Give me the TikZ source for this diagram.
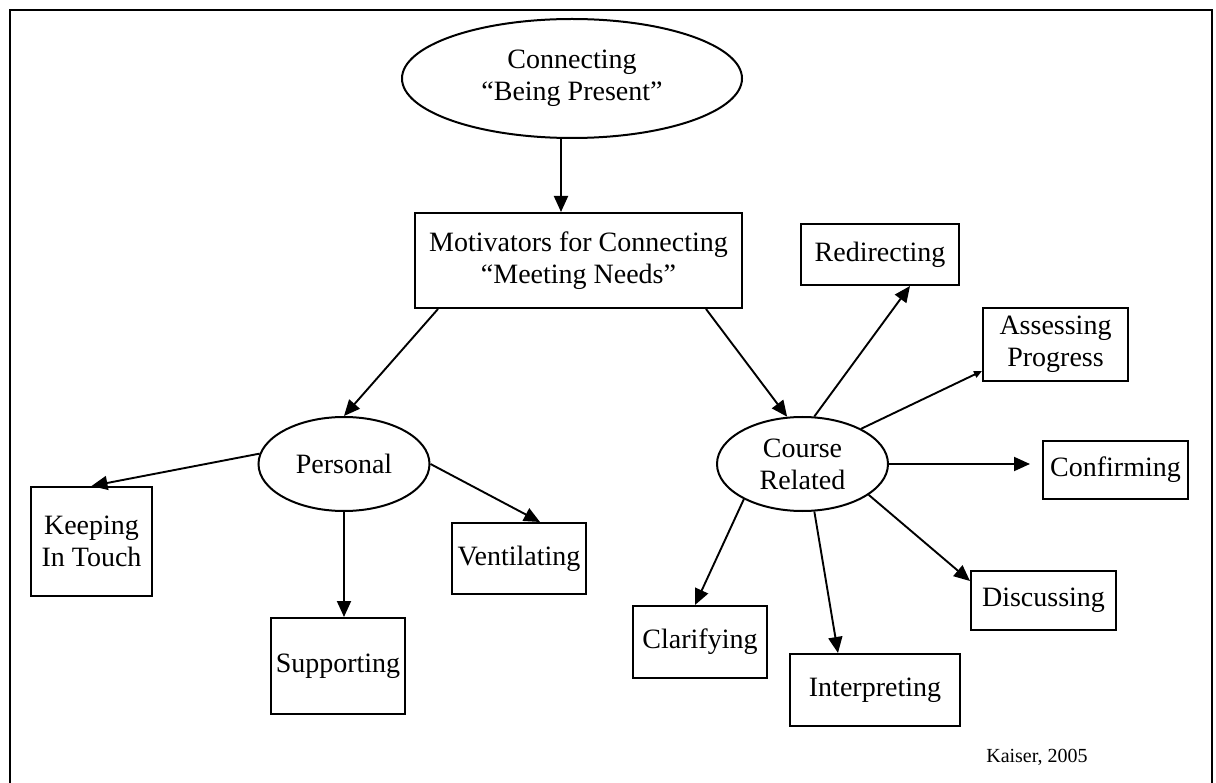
\documentclass[tikz,border=0pt]{standalone}
\usepackage{fontspec}
\setmainfont{Liberation Serif}
\usetikzlibrary{arrows.meta,shapes.geometric,calc}
\begin{document}
\begin{tikzpicture}[x=1pt,y=-1pt,
  txt/.style={font=\fontsize{28}{32}\selectfont, align=center},
  box/.style={txt, draw, line width=2pt, rectangle, inner sep=0pt},
  oval/.style={txt, draw, line width=2pt, ellipse, inner sep=0pt},
  arr/.style={line width=1.9pt, -{Triangle[length=16pt,width=14pt]}},
  smallarr/.style={line width=1.9pt, -{Triangle[length=8pt,width=7pt]}},
]
\useasboundingbox (0,0) rectangle (1216,783);
\fill[white] (0,0) rectangle (1216,783);

% outer frame (open at the bottom)
\draw[line width=2.6pt] (10,790) -- (10,10) -- (1212,10) -- (1212,790);

% central concepts
\node[oval, minimum width=340pt, minimum height=119pt] (top) at (572,78.5)
  {Connecting\\“Being Present”};
\node[box, minimum width=327pt, minimum height=95pt] (mot) at (578.5,260.5)
  {Motivators for Connecting\\“Meeting Needs”};
\node[oval, minimum width=171pt, minimum height=94pt] (pers) at (344,464) {Personal};
\node[oval, minimum width=171pt, minimum height=94pt] (course) at (802.5,464) {Course\\Related};

% personal motivators
\node[box, minimum width=121pt, minimum height=109pt] (keep) at (91.5,541.5) {Keeping\\In Touch};
\node[box, minimum width=134pt, minimum height=96pt] (sup) at (338,666) {Supporting};
\node[box, minimum width=134pt, minimum height=71pt] (vent) at (519,558.5) {Ventilating};

% course related motivators
\node[box, minimum width=158pt, minimum height=61pt] (red) at (880,254.5) {Redirecting};
\node[box, minimum width=145pt, minimum height=73pt] (ass) at (1055.5,344.5) {Assessing\\Progress};
\node[box, minimum width=145pt, minimum height=58pt] (conf) at (1115.5,470) {Confirming};
\node[box, minimum width=145pt, minimum height=59pt] (disc) at (1043.5,600.5) {Discussing};
\node[box, minimum width=170pt, minimum height=72pt] (interp) at (875,690) {Interpreting};
\node[box, minimum width=134pt, minimum height=72pt] (clar) at (700,642) {Clarifying};

\node[font=\fontsize{20}{22}\selectfont] (cite) at (1037,757) {Kaiser, 2005};

% connectors
\draw[arr] ([xshift=-11pt]top.south) -- ([xshift=-17.5pt]mot.north);
\draw[arr] ([xshift=24pt]mot.south west) -- (pers.north);
\draw[arr] ([xshift=-37pt]mot.south east) -- (course.108);

\draw[arr] (pers.173) -- (keep.north);
\draw[arr] (pers.south) -- (pers.south |- sup.north);
\draw[arr] (pers.east) -- ([xshift=21pt]vent.north);

\draw[arr] (course.76) -- ([xshift=30pt]red.south);
\draw[smallarr] (course.31) -- ([yshift=11pt]ass.south west);
\draw[arr, shorten >=12pt] (course.east) -- (course.east -| conf.west);
\draw[arr] (course.-25) -- ([yshift=-11pt]disc.north west);
\draw[arr] (course.284) -- ([xshift=-37pt]interp.north);
\draw[arr] (course.211) -- ([xshift=-5pt]clar.north);
\end{tikzpicture}
\end{document}
